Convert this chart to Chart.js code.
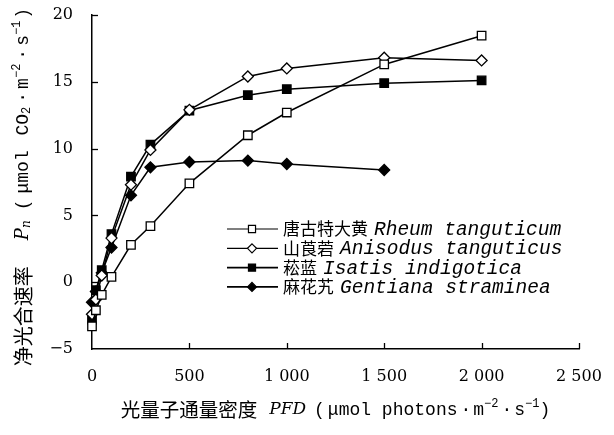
<!DOCTYPE html>
<html>
<head>
<meta charset="utf-8">
<script src="https://cdn.jsdelivr.net/npm/chart.js@4"></script>
<style>
  body { margin: 0; background: #fff; }
  #wrap { width: 614px; height: 435px; }
</style>
</head>
<body>
<div id="wrap"><canvas id="grafico" width="614" height="435"></canvas></div>
<script>
// PFD (µmol photons m-2 s-1)
const pfd = [0, 20, 50, 100, 200, 300, 500, 800, 1000, 1500, 2000];

// Pn por espécie
const rheum    = [-3.3, -2.1, -0.95, 0.4, 2.8, 4.2, 7.4, 11.0, 12.7, 16.3, 18.45];
const anisodus = [-2.4, -1.3, 0.5, 3.3, 7.3, 9.9, 12.9, 15.4, 16.0, 16.8, 16.6];
const isatis   = [-2.8, -0.6, 0.9, 3.6, 7.9, 10.3, 12.85, 14.0, 14.45, 14.9, 15.1];
const gentiana = [-1.5, -0.7, 0.7, 2.6, 6.5, 8.6, 9.0, 9.1, 8.85, 8.4];

const nomesCn  = ['唐古特大黄', '山莨菪', '菘蓝', '麻花艽'];
const nomesLat = ['Rheum tanguticum', 'Anisodus tanguticus', 'Isatis indigotica', 'Gentiana straminea'];

const xTicks = [0, 500, 1000, 1500, 2000, 2500];
const yTicks = [-5, 0, 5, 10, 15, 20];

const CJK = '"Noto Sans CJK SC"';
const MONO = '"Liberation Mono"';
const SERIF = '"DejaVu Serif"';

const estilos = [
  { shape: 'rect', fill: '#fff', r: 6 },
  { shape: 'rectRot', fill: '#fff', r: 5.5 },
  { shape: 'rect', fill: '#000', r: 6 },
  { shape: 'rectRot', fill: '#000', r: 5.5 }
];

function serie(vals, i) {
  const s = estilos[i];
  return {
    label: nomesLat[i],
    data: vals.map((v, k) => ({ x: pfd[k], y: v })),
    borderColor: '#000',
    borderWidth: 1.5,
    pointStyle: s.shape,
    pointRadius: s.r,
    pointHoverRadius: s.r,
    pointBackgroundColor: s.fill,
    pointBorderColor: '#000',
    pointBorderWidth: 1.3,
    tension: 0
  };
}

// texto com partes em fontes diferentes
function textoRico(ctx, partes, cx, cy) {
  let total = 0;
  partes.forEach(p => { ctx.font = p.f; p.w = ctx.measureText(p.t).width; total += p.w + (p.gap || 0); });
  let x = cx - total / 2;
  ctx.textBaseline = 'middle';
  ctx.textAlign = 'left';
  ctx.fillStyle = '#000';
  partes.forEach(p => {
    ctx.font = p.f;
    ctx.fillText(p.t, x, cy + (p.dy || 0));
    x += p.w + (p.gap || 0);
  });
}

function marcador(ctx, shape, x, y, r, fill) {
  ctx.beginPath();
  if (shape === 'rect') {
    const s = Math.SQRT1_2 * r;
    ctx.rect(x - s, y - s, 2 * s, 2 * s);
  } else {
    ctx.moveTo(x, y - r); ctx.lineTo(x + r, y); ctx.lineTo(x, y + r); ctx.lineTo(x - r, y); ctx.closePath();
  }
  ctx.fillStyle = fill;
  ctx.fill();
  ctx.lineWidth = 1.2;
  ctx.strokeStyle = '#000';
  ctx.stroke();
}

const extras = {
  id: 'extras',
  afterDraw(chart) {
    const ctx = chart.ctx;
    const xs = chart.scales.x, ys = chart.scales.y;
    const area = chart.chartArea;
    ctx.save();
    // ticks para dentro
    ctx.strokeStyle = '#000';
    ctx.lineWidth = 1.3;
    xTicks.slice(1).forEach(v => {
      const px = Math.round(xs.getPixelForValue(v)) + 0.5;
      ctx.beginPath(); ctx.moveTo(px, area.bottom); ctx.lineTo(px, area.bottom - 6); ctx.stroke();
    });
    yTicks.slice(1).forEach(v => {
      const py = Math.round(ys.getPixelForValue(v)) + 0.5;
      ctx.beginPath(); ctx.moveTo(area.left, py); ctx.lineTo(area.left + 6, py); ctx.stroke();
    });

    // legenda
    nomesCn.forEach((cn, i) => {
      const y = 229 + i * 19.3;
      ctx.beginPath();
      ctx.moveTo(227, y); ctx.lineTo(278, y);
      ctx.lineWidth = i < 2 ? 1.2 : 1.8;
      ctx.strokeStyle = '#000';
      ctx.stroke();
      marcador(ctx, estilos[i].shape, 252, y, estilos[i].shape === 'rect' ? 5 : 4.5, estilos[i].fill);
      ctx.fillStyle = '#000';
      ctx.textBaseline = 'middle';
      ctx.textAlign = 'left';
      ctx.font = '17px ' + CJK;
      ctx.fillText(cn, 283, y);
      const w = ctx.measureText(cn).width;
      ctx.font = 'italic 19.5px ' + MONO;
      ctx.fillText(nomesLat[i], 283 + w + 6, y + 1);
    });

    // título eixo x
    const mono = '18px ' + MONO, sup = '12px ' + MONO;
    textoRico(ctx, [
      { t: '光量子通量密度', f: '19.5px ' + CJK, gap: 12 },
      { t: 'PFD', f: 'italic 17px ' + SERIF, gap: 8 },
      { t: '(', f: mono, gap: 3 },
      { t: 'μmol photons', f: mono, gap: 3 },
      { t: '·', f: mono, gap: 2 },
      { t: 'm', f: mono },
      { t: '−2', f: sup, dy: -6, gap: 3 },
      { t: '·', f: mono, gap: 2 },
      { t: 's', f: mono },
      { t: '−1', f: sup, dy: -6 },
      { t: ')', f: mono }
    ], (area.left + area.right) / 2, 410);

    // título eixo y
    ctx.translate(23, 187);
    ctx.rotate(-Math.PI / 2);
    textoRico(ctx, [
      { t: '净光合速率', f: '20px ' + CJK, gap: 26 },
      { t: 'P', f: 'italic 18px ' + SERIF },
      { t: 'n', f: 'italic 12px ' + SERIF, dy: 4, gap: 10 },
      { t: '(', f: mono, gap: 6 },
      { t: 'μmol', f: mono, gap: 4 },
      { t: ' CO', f: mono },
      { t: '2', f: sup, dy: 4, gap: 4 },
      { t: '·', f: mono, gap: 3 },
      { t: 'm', f: mono },
      { t: '−2', f: sup, dy: -6, gap: 4 },
      { t: '·', f: mono, gap: 3 },
      { t: 's', f: mono },
      { t: '−1', f: sup, dy: -6, gap: 2 },
      { t: ')', f: mono }
    ], 0, 0);
    ctx.restore();
  }
};

const ctxGrafico = document.getElementById('grafico').getContext('2d');
new Chart(ctxGrafico, {
  type: 'line',
  data: {
    datasets: [serie(rheum, 0), serie(anisodus, 1), serie(isatis, 2), serie(gentiana, 3)]
  },
  options: {
    responsive: false,
    animation: false,
    clip: false,
    layout: { padding: { top: 15, right: 35, left: 0, bottom: 0 } },
    plugins: { legend: { display: false }, tooltip: { enabled: false } },
    scales: {
      x: {
        type: 'linear',
        min: 0, max: 2500,
        afterBuildTicks: s => { s.ticks = xTicks.map(v => ({ value: v })); },
        afterFit: s => { s.height = 86; s.paddingLeft = 0; s.paddingRight = 0; },
        grid: { display: false, drawTicks: false },
        border: { display: true, color: '#000', width: 1.5 },
        ticks: {
          padding: 18,
          color: '#000',
          font: { family: SERIF, size: 16 },
          maxRotation: 0,
          callback: v => v >= 1000 ? Math.floor(v / 1000) + ' ' + String(v % 1000).padStart(3, '0') : String(v)
        }
      },
      y: {
        type: 'linear',
        min: -5, max: 20,
        afterBuildTicks: s => { s.ticks = yTicks.map(v => ({ value: v })); },
        afterFit: s => { s.width = 92; s.paddingTop = 0; s.paddingBottom = 0; },
        grid: { display: false, drawTicks: false },
        border: { display: true, color: '#000', width: 1.5 },
        ticks: {
          padding: 19,
          color: '#000',
          font: { family: SERIF, size: 16 },
          callback: v => v < 0 ? '−' + Math.abs(v) : String(v)
        }
      }
    }
  },
  plugins: [extras]
});
</script>
</body>
</html>
